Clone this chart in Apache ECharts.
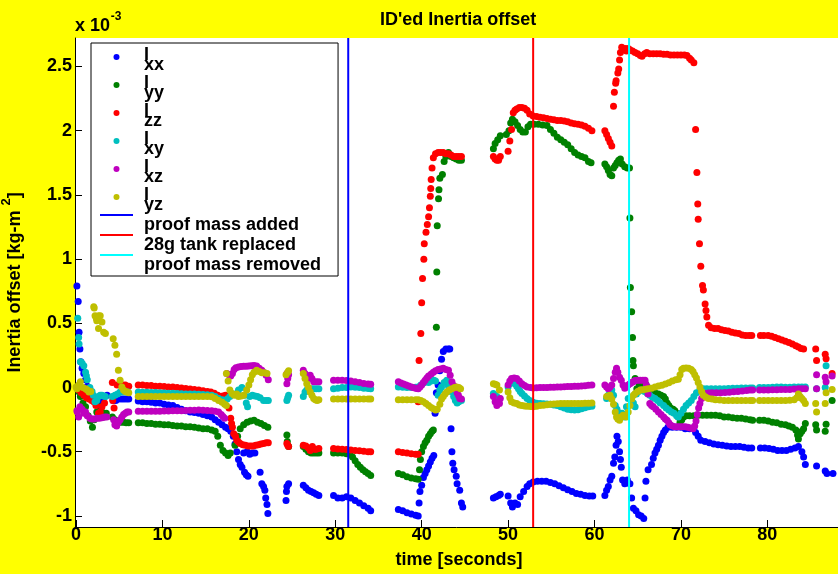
<!DOCTYPE html>
<html>
<head>
<meta charset="utf-8">
<title>ID'ed Inertia offset</title>
<script src="https://cdn.jsdelivr.net/npm/echarts@6/dist/echarts.min.js"></script>
<style>
  html, body { margin: 0; padding: 0; background: #ffff00; }
  #chart { width: 838px; height: 574px; }
</style>
</head>
<body>
<div id="chart"></div>
<script>
// values in units of 1e-3 kg-m^2, time in seconds
const ixx = [
  [0.1,0.79],[0.25,0.67],[0.35,0.43],[0.45,0.30],[0.55,0.20],[0.7,0.15],[0.9,0.11],[1.1,0.06],[1.3,0.01],[1.5,-0.03],[1.8,-0.07],[2.1,-0.10],[2.4,-0.12],[2.7,-0.11],[3.0,-0.09],[3.3,-0.07],[3.6,-0.06],
  [4.3,-0.10],[4.6,-0.10],[4.9,-0.09],[5.2,-0.09],[5.5,-0.09],[5.8,-0.09],[6.1,-0.09],
  [7.2,-0.105],[7.7,-0.11],[8.2,-0.11],[8.7,-0.115],[9.2,-0.12],[9.7,-0.12],[10.2,-0.13],[10.7,-0.135],[11.2,-0.14],[11.7,-0.155],[12.2,-0.17],[12.7,-0.18],[13.2,-0.19],[13.7,-0.195],[14.2,-0.2],[14.7,-0.21],[15.2,-0.22],[15.7,-0.23],[16.1,-0.25],[16.5,-0.27],[16.9,-0.29],[17.3,-0.31],[17.6,-0.32],[17.9,-0.34],[18.2,-0.38],
  [18.4,-0.44],[18.6,-0.5],[18.8,-0.56],[19.0,-0.6],[19.2,-0.62],[19.5,-0.66],[19.7,-0.68],[19.9,-0.69],[19.4,-0.51],[19.8,-0.5],[20.1,-0.52],[20.4,-0.51],[20.7,-0.51],[21.3,-0.66],[21.5,-0.75],[21.7,-0.77],[21.85,-0.8],[21.95,-0.86],[22.1,-0.91],[22.2,-0.98],
  [24.3,-0.88],[24.35,-0.81],[24.4,-0.77],[24.6,-0.75],
  [26.3,-0.76],[26.6,-0.78],[26.9,-0.8],[27.2,-0.81],[27.5,-0.82],[27.8,-0.83],[28.1,-0.84],
  [29.8,-0.84],[30.3,-0.86],[30.8,-0.86],[31.3,-0.85],[31.8,-0.86],[32.3,-0.88],[32.8,-0.9],[33.3,-0.92],[33.8,-0.94],[34.1,-0.96],
  [37.3,-0.95],[37.8,-0.96],[38.3,-0.975],[38.8,-0.985],[39.3,-0.995],[39.6,-1.0],[39.7,-0.9],[39.8,-0.81],[40.0,-0.76],[40.2,-0.7],[40.4,-0.67],[40.6,-0.64],[40.8,-0.61],[41.0,-0.58],[41.2,-0.55],[41.4,-0.53],
  [41.55,-0.2],[41.7,-0.04],[41.9,0.02],[42.1,0.13],[42.3,0.22],[42.5,0.28],[42.8,0.3],[43.1,0.3],[43.25,0.3],
  [43.4,-0.32],[43.5,-0.5],[43.6,-0.59],[43.75,-0.64],[44.0,-0.69],[44.1,-0.75],[44.4,-0.8],[44.6,-0.9],[44.75,-0.93],
  [48.3,-0.86],[48.6,-0.85],[48.9,-0.84],[49.1,-0.83],
  [50.0,-0.845],[50.3,-0.9],[50.5,-0.93],[50.8,-0.9],[51.1,-0.91],[51.4,-0.85],[51.8,-0.81],[52.2,-0.77],[52.5,-0.75],[52.9,-0.735],[53.4,-0.73],[53.9,-0.73],[54.4,-0.73],[54.9,-0.74],[55.4,-0.75],[55.9,-0.765],[56.4,-0.78],[56.9,-0.795],[57.4,-0.81],[57.9,-0.825],[58.4,-0.83],[58.9,-0.84],[59.4,-0.845],[59.8,-0.845],
  [61.2,-0.84],[61.4,-0.8],[61.6,-0.77],[61.8,-0.72],[62.0,-0.69],[62.2,-0.59],[62.35,-0.54],[62.5,-0.45],[62.6,-0.38],[62.75,-0.42],[62.9,-0.5],[63.0,-0.56],[63.1,-0.62],[63.25,-0.72],[63.5,-0.75],[63.8,-0.72],[64.1,-0.75],[64.3,-0.86],[64.5,-0.94],[64.8,-0.96],[65.1,-0.99],[65.4,-1.0],[65.7,-1.02],
  [65.85,-0.86],[65.95,-0.73],[66.2,-0.64],[66.6,-0.6],[66.8,-0.55],[67.0,-0.51],[67.2,-0.48],[67.4,-0.45],[67.6,-0.41],[67.8,-0.38],[68.0,-0.35],[68.2,-0.33],[68.5,-0.31],[69.0,-0.31],[69.5,-0.31],[70.0,-0.31],[70.5,-0.32],[71.0,-0.32],[71.4,-0.32],[71.7,-0.35],[72.0,-0.38],[72.3,-0.41],[72.8,-0.42],[73.3,-0.43],[73.8,-0.44],[74.3,-0.445],[74.8,-0.45],[75.3,-0.455],[75.8,-0.46],[76.3,-0.46],[76.8,-0.46],[77.3,-0.465],[77.8,-0.47],[78.2,-0.47],
  [79.2,-0.47],[79.7,-0.47],[80.2,-0.475],[80.7,-0.48],[81.2,-0.49],[81.7,-0.49],[82.2,-0.49],[82.7,-0.48],[83.2,-0.47],[83.6,-0.46],[84.0,-0.5],[84.2,-0.54],[84.4,-0.6],
  [85.7,-0.61],[86.7,-0.65],[86.9,-0.67],[87.6,-0.67]
];
const iyy = [
  [0.3,-0.03],[0.5,-0.07],[0.8,-0.12],[1.1,-0.15],[1.4,-0.22],[1.65,-0.26],[1.9,-0.31],[2.1,-0.25],[2.4,-0.19],[2.8,-0.15],[3.0,-0.19],[3.2,-0.23],[3.5,-0.2],
  [4.2,-0.23],[4.5,-0.25],[4.9,-0.27],[5.2,-0.27],[5.5,-0.27],[5.8,-0.275],[6.1,-0.275],
  [7.2,-0.275],[7.7,-0.275],[8.2,-0.28],[8.7,-0.28],[9.2,-0.285],[9.7,-0.285],[10.2,-0.29],[10.7,-0.29],[11.2,-0.295],[11.7,-0.3],[12.2,-0.3],[12.7,-0.305],[13.2,-0.305],[13.7,-0.31],[14.2,-0.315],[14.7,-0.32],[15.2,-0.32],[15.7,-0.33],[16.1,-0.34],[16.4,-0.38],[16.7,-0.45],[17.0,-0.49],[17.3,-0.51],[17.6,-0.53],[17.85,-0.51],
  [18.4,-0.45],[18.7,-0.38],[19.0,-0.32],[19.4,-0.29],[19.8,-0.27],[20.2,-0.26],[20.6,-0.255],[21.0,-0.27],[21.4,-0.28],[21.8,-0.295],[22.2,-0.31],
  [24.4,-0.37],[24.45,-0.42],[24.6,-0.46],
  [26.3,-0.46],[26.6,-0.48],[26.9,-0.5],[27.2,-0.51],[27.5,-0.51],[27.8,-0.51],[28.1,-0.51],
  [29.8,-0.51],[30.3,-0.51],[30.8,-0.51],[31.3,-0.515],[31.7,-0.52],[32.0,-0.54],[32.3,-0.57],[32.6,-0.6],[32.9,-0.62],[33.2,-0.64],[33.5,-0.655],[33.8,-0.67],[34.1,-0.685],
  [37.3,-0.67],[37.8,-0.68],[38.3,-0.695],[38.8,-0.705],[39.3,-0.71],[39.6,-0.715],[39.75,-0.64],[39.85,-0.56],[40.0,-0.5],[40.2,-0.46],[40.4,-0.43],[40.6,-0.41],[40.8,-0.38],[41.0,-0.36],[41.2,-0.34],[41.35,-0.33],
  [41.7,0.47],[41.75,0.9],[41.8,1.26],[41.95,1.47],[42.0,1.54],[42.1,1.63],[42.4,1.66],[42.6,1.76],[42.8,1.8],[43.1,1.83],[43.4,1.8],[43.7,1.79],[44.0,1.78],[44.3,1.77],[44.6,1.77],
  [48.3,1.86],[48.5,1.9],[48.8,1.93],[49.1,1.96],
  [49.8,1.97],[50.1,2.0],[50.3,2.06],[50.5,2.09],[50.8,2.07],[51.1,2.04],[51.4,2.01],[51.7,1.99],[52.0,1.99],[52.3,2.03],[52.6,2.05],[53.0,2.05],[53.5,2.05],[54.0,2.045],[54.5,2.04],[54.9,2.01],[55.3,1.98],[55.7,1.95],[56.1,1.93],[56.5,1.91],[56.9,1.89],[57.3,1.86],[57.7,1.83],[58.1,1.81],[58.5,1.8],[58.9,1.79],[59.3,1.76],[59.6,1.75],
  [61.2,1.74],[61.4,1.72],[61.6,1.69],[61.8,1.66],[62.0,1.65],[62.2,1.71],[62.4,1.73],[62.6,1.75],[62.8,1.77],[63.0,1.78],[63.2,1.74],[63.5,1.72],[63.8,1.71],[64.05,1.71],
  [64.1,1.32],[64.15,0.78],[64.3,0.59],[64.4,0.39],[64.45,0.21],[64.5,0.17],[64.7,0.07],[64.9,-0.01],
  [65.2,0.02],[65.5,0.03],[65.9,0.03],[66.2,0.0],[66.6,-0.03],[67.0,-0.04],[67.4,-0.05],[67.7,-0.06],[68.0,-0.07],[68.2,-0.09],[68.4,-0.12],[68.6,-0.14],[68.8,-0.16],[69.1,-0.17],[69.3,-0.18],[69.5,-0.2],[69.7,-0.23],[69.9,-0.27],[70.1,-0.25],[70.3,-0.23],[70.6,-0.22],[71.0,-0.22],[71.5,-0.22],[72.0,-0.215],[72.5,-0.215],[73.0,-0.215],[73.5,-0.215],[74.0,-0.215],[74.5,-0.22],[75.0,-0.23],[75.5,-0.23],[76.0,-0.235],[76.5,-0.24],[77.0,-0.24],[77.5,-0.245],[78.0,-0.25],[78.3,-0.255],
  [79.1,-0.255],[79.6,-0.255],[80.1,-0.26],[80.6,-0.27],[81.1,-0.275],[81.6,-0.285],[82.1,-0.29],[82.5,-0.3],[82.9,-0.31],[83.3,-0.33],[83.5,-0.37],[83.6,-0.4],[83.8,-0.36],[84.0,-0.34],[84.2,-0.32],[84.4,-0.28],
  [85.6,-0.29],[85.7,-0.33],[86.7,-0.34],[86.8,-0.285],[87.5,-0.1]
];
const izz = [
  [0.3,-0.02],[0.6,-0.04],[0.9,-0.06],[1.2,-0.08],[1.5,-0.09],[1.8,-0.1],[2.05,-0.11],[2.3,-0.14],[2.6,-0.2],[2.8,-0.19],[3.0,-0.15],[3.3,-0.12],
  [4.2,0.04],[4.25,-0.1],[4.4,-0.16],[4.75,0.02],[5.1,0.02],[5.4,0.02],[5.7,0.02],[6.1,0.01],
  [7.2,0.02],[7.7,0.02],[8.2,0.015],[8.7,0.015],[9.2,0.01],[9.7,0.01],[10.2,0.008],[10.7,0.005],[11.2,0.005],[11.7,0.0],[12.2,-0.003],[12.7,-0.008],[13.2,-0.012],[13.7,-0.015],[14.2,-0.02],[14.7,-0.025],[15.2,-0.03],[15.6,-0.035],[16.0,-0.045],[16.4,-0.06],[16.7,-0.07],[17.0,-0.065],[17.3,-0.06],
  [17.7,-0.16],[17.9,-0.24],[18.0,-0.28],[18.1,-0.31],[18.25,-0.36],[18.45,-0.38],[18.6,-0.41],[18.8,-0.425],[19.0,-0.435],[19.3,-0.445],[19.6,-0.45],[19.9,-0.455],[20.2,-0.455],[20.5,-0.455],[20.8,-0.45],[21.1,-0.445],[21.4,-0.44],[21.7,-0.435],[22.0,-0.43],[22.25,-0.43],
  [24.4,-0.435],[24.5,-0.45],[24.6,-0.46],
  [26.3,-0.45],[26.6,-0.455],[26.9,-0.47],[27.1,-0.49],[27.35,-0.46],[27.6,-0.48],[27.8,-0.48],[28.1,-0.475],
  [29.8,-0.475],[30.3,-0.478],[30.8,-0.48],[31.3,-0.483],[31.8,-0.487],[32.3,-0.49],[32.8,-0.493],[33.3,-0.496],[33.8,-0.5],[34.1,-0.5],
  [37.3,-0.5],[37.8,-0.505],[38.3,-0.51],[38.8,-0.515],[39.3,-0.52],[39.6,-0.52],
  [39.6,-0.11],[39.7,0.21],[39.9,0.42],[40.0,0.66],[40.1,0.85],[40.25,1.0],[40.3,1.12],[40.5,1.21],[40.65,1.27],[40.8,1.33],[40.9,1.4],[41.0,1.49],[41.05,1.55],[41.1,1.62],[41.2,1.71],[41.35,1.79],
  [41.6,1.82],[41.9,1.83],[42.2,1.83],[42.5,1.83],[42.8,1.82],[43.1,1.82],[43.4,1.81],[43.7,1.8],[44.0,1.8],[44.3,1.8],[44.6,1.8],
  [48.3,1.8],[48.5,1.78],[48.7,1.77],[48.9,1.77],[49.1,1.8],
  [50.0,1.84],[50.2,1.92],[50.4,2.01],[50.6,2.14],[50.8,2.16],[51.0,2.17],[51.3,2.18],[51.6,2.18],[51.9,2.175],[52.2,2.16],[52.5,2.13],[52.9,2.115],[53.3,2.11],[53.7,2.105],[54.1,2.1],[54.5,2.095],[54.9,2.09],[55.3,2.085],[55.7,2.08],[56.1,2.08],[56.5,2.075],[56.9,2.07],[57.3,2.06],[57.7,2.055],[58.1,2.05],[58.5,2.045],[58.9,2.035],[59.3,2.02],[59.7,2.0],
  [61.2,2.0],[61.4,1.97],[61.6,1.94],[61.8,1.91],[62.0,1.88],
  [62.2,2.19],[62.3,2.3],[62.45,2.37],[62.5,2.39],[62.7,2.45],[62.8,2.48],[62.9,2.55],[63.0,2.61],[63.15,2.65],[63.35,2.63],[63.55,2.64],[63.7,2.62],[63.9,2.64],[64.1,2.63],[64.4,2.62],[64.7,2.61],[65.0,2.6],[65.3,2.585],[65.5,2.58],[65.8,2.6],[66.05,2.61],[66.4,2.6],[66.8,2.6],[67.2,2.6],[67.6,2.6],[68.0,2.595],[68.4,2.595],[68.8,2.59],[69.2,2.59],[69.6,2.59],[70.0,2.59],[70.4,2.59],[70.7,2.585],[71.0,2.565],[71.2,2.55],[71.5,2.53],
  [71.7,2.01],[71.85,1.675],[71.95,1.43],[72.0,1.31],[72.15,1.12],[72.3,0.945],[72.5,0.795],[72.6,0.76],[72.8,0.65],[72.9,0.6],[73.0,0.55],[73.2,0.485],
  [73.5,0.465],[73.9,0.46],[74.3,0.46],[74.7,0.45],[75.1,0.445],[75.5,0.44],[75.9,0.43],[76.3,0.425],[76.7,0.42],[77.1,0.41],[77.5,0.405],[77.9,0.405],[78.2,0.405],
  [79.2,0.405],[79.6,0.405],[80.1,0.405],[80.5,0.4],[80.9,0.39],[81.3,0.38],[81.7,0.37],[82.1,0.36],[82.5,0.35],[82.9,0.34],[83.3,0.325],[83.6,0.315],[83.9,0.305],[84.2,0.3],
  [85.6,0.3],[85.7,0.21],[86.7,0.26],[86.8,0.225],[87.5,0.11]
];
const ixy = [
  [0.2,0.54],[0.3,0.39],[0.35,0.34],[0.5,0.2],[0.7,0.19],[0.9,0.17],[1.1,0.12],[1.2,0.09],[1.3,0.06],[1.6,0.0],[1.85,-0.03],[2.0,-0.06],[2.2,-0.11],[2.4,-0.1],[2.6,-0.07],[2.8,-0.06],[3.0,-0.06],[3.2,-0.065],[3.4,-0.07],
  [4.2,-0.07],[4.5,-0.06],[4.8,-0.05],[5.1,-0.035],[5.4,-0.035],[5.7,-0.035],[6.0,-0.035],
  [7.2,-0.035],[7.7,-0.036],[8.2,-0.037],[8.7,-0.038],[9.2,-0.039],[9.7,-0.04],[10.2,-0.042],[10.7,-0.044],[11.2,-0.045],[11.7,-0.046],[12.2,-0.048],[12.7,-0.05],[13.2,-0.05],[13.7,-0.051],[14.2,-0.052],[14.7,-0.055],[15.2,-0.057],[15.7,-0.06],[16.1,-0.07],[16.5,-0.085],[16.9,-0.095],[17.2,-0.1],[17.5,-0.09],[17.8,-0.07],[18.1,-0.05],[18.45,-0.05],[18.8,-0.02],[19.2,0.0],[19.5,-0.06],[19.7,-0.12],[19.85,-0.15],[20.1,-0.07],[20.4,-0.06],[20.7,-0.065],[21.0,-0.07],[21.3,-0.08],[21.7,-0.1],[22.0,-0.1],[22.25,-0.1],
  [24.4,-0.1],[24.5,-0.08],[24.6,-0.06],
  [26.3,-0.07],[26.5,-0.035],[26.7,-0.02],[26.9,-0.01],[27.2,-0.01],[27.5,-0.01],[27.8,-0.01],[28.1,-0.01],
  [29.8,-0.01],[30.3,-0.005],[30.8,0.0],[31.3,0.0],[31.8,0.005],[32.3,0.002],[32.8,0.0],[33.3,-0.005],[33.8,-0.008],[34.1,-0.01],
  [37.3,0.005],[37.8,0.002],[38.3,0.0],[38.8,0.0],[39.3,0.003],[39.6,0.005],[39.9,0.02],[40.2,0.035],[40.5,0.045],[40.8,0.04],[41.1,0.05],[41.4,0.057],[41.6,0.05],[41.9,-0.06],[42.1,-0.02],[42.3,0.005],[42.6,0.04],[42.9,0.057],[43.1,0.01],[43.4,-0.03],[43.7,-0.07],[43.9,-0.1],[44.1,-0.12],[44.3,-0.11],[44.6,-0.1],
  [48.3,-0.047],[48.5,-0.06],[48.7,-0.07],[49.0,-0.085],
  [50.0,0.005],[50.2,0.03],[50.4,0.045],[50.6,0.04],[50.8,0.03],[51.0,0.01],[51.2,-0.01],[51.4,-0.03],[51.6,-0.047],[51.9,-0.065],[52.2,-0.085],[52.5,-0.1],[52.9,-0.115],[53.3,-0.122],[53.7,-0.125],[54.1,-0.127],[54.5,-0.128],[54.9,-0.13],[55.3,-0.135],[55.7,-0.14],[56.1,-0.15],[56.5,-0.16],[56.9,-0.17],[57.3,-0.173],[57.7,-0.175],[58.1,-0.172],[58.5,-0.165],[58.9,-0.158],[59.3,-0.15],[59.7,-0.145],
  [61.4,-0.085],[61.6,-0.06],[61.8,-0.04],[62.0,-0.02],[62.2,-0.06],[62.4,-0.14],[62.6,-0.17],[62.8,-0.2],[63.0,-0.2],[63.2,-0.2],[63.5,-0.23],[63.7,-0.15],[63.9,-0.085],[64.3,-0.1],[64.5,-0.12],[64.7,-0.15],[64.85,-0.05],[65.1,-0.03],[65.4,-0.02],[65.8,-0.03],[66.1,-0.045],[66.4,-0.06],[66.7,-0.075],[67.0,-0.085],[67.3,-0.1],[67.6,-0.12],[68.0,-0.14],[68.3,-0.16],[68.6,-0.175],[68.9,-0.19],[69.2,-0.2],[69.5,-0.22],[69.7,-0.23],[70.0,-0.2],[70.3,-0.17],[70.6,-0.14],[70.9,-0.12],[71.2,-0.1],[71.5,-0.07],[71.8,-0.04],[72.2,-0.02],[72.6,-0.01],[73.0,-0.01],[73.5,-0.01],[74.0,-0.01],[74.5,-0.01],[75.0,-0.01],[75.5,-0.008],[76.0,-0.006],[76.5,-0.005],[77.0,-0.003],[77.5,-0.003],[78.0,-0.003],[78.3,-0.003],
  [79.1,0.0],[79.6,0.0],[80.1,0.0],[80.6,0.002],[81.1,0.004],[81.6,0.004],[82.1,0.002],[82.6,0.003],[83.1,0.005],[83.6,0.005],[84.0,0.005],[84.4,0.005],
  [85.7,-0.01],[86.7,0.0],[86.8,0.17]
];
const ixz = [
  [0.1,-0.18],[0.15,-0.19],[0.3,-0.23],[0.45,-0.15],[0.7,-0.17],[0.9,-0.2],[1.1,-0.19],[1.3,-0.22],[1.6,-0.24],[1.85,-0.245],[2.1,-0.245],[2.4,-0.24],[2.7,-0.24],[3.0,-0.235],[3.3,-0.23],[3.55,-0.23],
  [4.35,-0.25],[4.5,-0.29],[4.7,-0.3],[4.9,-0.27],[5.1,-0.25],[5.3,-0.23],[5.5,-0.21],[5.7,-0.2],[5.9,-0.19],[6.1,-0.19],
  [7.2,-0.185],[7.7,-0.185],[8.2,-0.185],[8.7,-0.185],[9.2,-0.185],[9.7,-0.185],[10.2,-0.183],[10.7,-0.182],[11.2,-0.181],[11.7,-0.18],[12.2,-0.18],[12.7,-0.178],[13.2,-0.177],[13.7,-0.176],[14.2,-0.175],[14.7,-0.176],[15.2,-0.178],[15.7,-0.18],[16.1,-0.185],[16.5,-0.19],[16.8,-0.21],[17.0,-0.225],[17.2,-0.24],
  [17.45,0.11],[17.7,0.1],[17.9,0.09],[18.1,0.11],[18.3,0.14],[18.5,0.155],[18.8,0.16],[19.1,0.163],[19.4,0.165],[19.7,0.165],[20.0,0.168],[20.3,0.17],[20.6,0.172],[20.9,0.168],[21.2,0.15],[21.5,0.135],[21.8,0.115],[22.0,0.095],[22.25,0.06],
  [24.4,0.11],[24.4,0.03],[24.5,0.07],[24.6,0.1],
  [26.3,0.135],[26.5,0.11],[26.7,0.09],[26.9,0.07],[27.1,0.095],[27.3,0.07],[27.5,0.045],[27.8,0.045],[28.1,0.045],
  [29.8,0.057],[30.3,0.057],[30.8,0.057],[31.3,0.055],[31.8,0.05],[32.3,0.045],[32.8,0.04],[33.3,0.032],[33.8,0.027],[34.1,0.025],
  [37.3,0.045],[37.6,0.035],[37.9,0.028],[38.2,0.02],[38.5,0.012],[38.8,0.005],[39.1,-0.002],[39.4,-0.008],[39.6,-0.01],[39.8,0.005],[40.0,0.02],[40.2,0.04],[40.4,0.057],[40.6,0.075],[40.8,0.09],[41.1,0.105],[41.35,0.12],[41.6,0.13],[41.9,0.14],[42.2,0.145],[42.5,0.15],[42.8,0.14],[43.1,0.135],[43.3,0.095],[43.5,0.045],[43.7,0.015],[43.9,-0.01],[44.1,-0.04],[44.25,-0.06],[44.4,-0.085],[44.6,-0.09],
  [48.3,-0.07],[48.5,-0.11],[48.7,-0.14],[49.0,-0.125],[49.1,-0.085],
  [50.0,0.02],[50.2,0.05],[50.4,0.07],[50.7,0.075],[51.0,0.07],[51.3,0.05],[51.6,0.03],[51.9,0.015],[52.2,0.005],[52.6,0.0],[52.9,-0.003],[53.3,-0.002],[53.7,0.0],[54.1,0.0],[54.5,0.0],[54.9,0.002],[55.3,0.003],[55.7,0.004],[56.1,0.005],[56.5,0.006],[56.9,0.008],[57.3,0.009],[57.7,0.01],[58.1,0.011],[58.5,0.012],[58.9,0.014],[59.3,0.017],[59.7,0.02],
  [61.2,0.02],[61.4,0.005],[61.6,-0.01],[61.8,0.005],[62.0,0.02],[62.2,0.07],[62.4,0.12],[62.55,0.15],[62.7,0.12],[62.9,0.08],[63.1,0.057],[63.3,0.02],[63.5,-0.005],[63.7,0.005],[63.9,0.02],[64.1,0.03],[64.3,0.04],[64.5,0.045],[64.7,0.055],[65.0,0.057],[65.3,0.057],[65.6,0.057],[65.85,0.057],
  [66.0,0.02],[66.2,-0.05],[66.4,-0.125],[66.6,-0.14],[66.8,-0.15],[67.1,-0.17],[67.4,-0.19],[67.7,-0.21],[68.0,-0.23],[68.2,-0.245],[68.4,-0.255],[68.6,-0.275],[68.75,-0.29],[69.0,-0.3],[69.3,-0.305],[69.6,-0.305],[69.9,-0.305],[70.2,-0.305],[70.5,-0.305],[70.8,-0.31],[71.1,-0.315],[71.4,-0.32],
  [71.6,-0.3],[71.75,-0.26],[71.9,-0.21],[72.05,-0.16],[72.2,-0.125],[72.4,-0.085],[72.6,-0.06],[72.8,-0.047],[73.2,-0.042],[73.6,-0.04],[74.1,-0.04],[74.6,-0.04],[75.1,-0.038],[75.6,-0.036],[76.1,-0.033],[76.6,-0.03],[77.1,-0.026],[77.6,-0.023],[78.0,-0.02],[78.3,-0.02],
  [79.1,-0.02],[79.6,-0.02],[80.1,-0.02],[80.6,-0.018],[81.1,-0.017],[81.6,-0.016],[82.1,-0.016],[82.6,-0.015],[83.1,-0.012],[83.6,-0.01],[84.0,-0.01],[84.4,-0.01],
  [85.7,0.1],[85.7,-0.01],[86.7,0.08],[86.8,0.045],[87.5,0.09]
];
const iyz = [
  [0.0,0.005],[0.1,-0.01],[0.3,0.02],[0.5,0.045],[0.8,0.0],[1.1,-0.01],[1.3,-0.02],[1.5,-0.035],[1.7,-0.03],
  [2.05,0.63],[2.1,0.62],[2.2,0.56],[2.35,0.54],[2.4,0.52],[2.6,0.56],[2.6,0.46],[2.8,0.56],[3.0,0.51],[3.2,0.43],[3.4,0.42],
  [4.3,0.38],[4.5,0.33],[4.7,0.26],[4.9,0.135],[5.1,0.057],[5.3,0.005],[5.5,-0.02],[5.7,-0.03],[5.9,-0.035],[6.1,-0.04],
  [7.2,-0.07],[7.7,-0.07],[8.2,-0.07],[8.7,-0.07],[9.2,-0.07],[9.7,-0.07],[10.2,-0.07],[10.7,-0.07],[11.2,-0.07],[11.7,-0.07],[12.2,-0.07],[12.7,-0.07],[13.2,-0.07],[13.7,-0.07],[14.2,-0.07],[14.7,-0.07],[15.2,-0.07],[15.7,-0.072],[16.1,-0.085],[16.5,-0.1],[16.9,-0.115],[17.2,-0.13],[17.4,-0.14],
  [17.4,0.11],[17.6,0.05],[17.8,-0.02],[18.05,-0.047],[18.3,-0.06],[18.6,-0.05],[18.8,-0.07],[19.1,-0.065],[19.4,-0.06],[19.75,-0.02],[20.0,0.02],[20.2,0.06],[20.4,0.1],[20.6,0.12],[20.9,0.135],[21.2,0.125],[21.5,0.115],[21.8,0.115],[22.1,0.11],
  [24.3,0.1],[24.5,0.12],[24.6,0.13],
  [26.3,0.11],[26.5,0.07],[26.7,0.03],[26.9,0.0],[27.1,-0.035],[27.3,-0.06],[27.5,-0.085],[27.7,-0.095],[27.9,-0.1],[28.1,-0.095],
  [29.8,-0.09],[30.3,-0.09],[30.8,-0.09],[31.3,-0.09],[31.8,-0.09],[32.3,-0.09],[32.8,-0.09],[33.3,-0.09],[33.8,-0.09],[34.1,-0.09],
  [37.3,-0.095],[37.8,-0.095],[38.3,-0.095],[38.8,-0.095],[39.3,-0.095],[39.6,-0.095],[39.9,-0.1],[40.2,-0.11],[40.5,-0.125],[40.8,-0.14],[41.1,-0.155],[41.35,-0.165],[41.6,-0.175],[41.8,-0.17],[42.1,-0.13],[42.3,-0.09],[42.5,-0.07],[42.7,-0.05],[42.9,-0.035],[43.2,-0.02],[43.5,-0.01],[43.8,0.0],[44.05,0.005],[44.3,0.0],[44.5,-0.01],
  [48.3,0.03],[48.5,0.025],[48.7,0.02],[49.0,-0.02],
  [50.0,-0.035],[50.2,-0.08],[50.4,-0.11],[50.7,-0.12],[51.0,-0.125],[51.3,-0.135],[51.6,-0.14],[51.9,-0.143],[52.2,-0.145],[52.6,-0.148],[52.9,-0.15],[53.3,-0.145],[53.7,-0.14],[54.1,-0.137],[54.5,-0.134],[54.9,-0.13],[55.3,-0.128],[55.7,-0.126],[56.1,-0.125],[56.5,-0.125],[56.9,-0.125],[57.3,-0.125],[57.7,-0.125],[58.1,-0.125],[58.5,-0.125],[58.9,-0.123],[59.3,-0.122],[59.7,-0.12],
  [61.4,-0.07],[61.6,-0.065],[61.8,-0.06],[62.0,-0.09],[62.2,-0.13],[62.4,-0.19],[62.55,-0.23],[62.7,-0.245],[62.9,-0.255],[63.1,-0.23],[63.3,-0.215],[63.5,-0.225],[63.7,-0.23],[63.9,-0.19],[64.1,-0.14],[64.3,-0.09],[64.5,-0.06],[64.7,-0.047],[65.0,-0.03],[65.3,-0.02],[65.6,-0.017],[65.9,-0.013],[66.2,-0.01],[66.6,-0.005],[67.0,0.005],[67.4,0.012],[67.8,0.018],[68.2,0.028],[68.6,0.038],[69.0,0.05],[69.4,0.06],[69.7,0.065],[69.9,0.1],[70.1,0.14],[70.3,0.15],[70.6,0.153],[70.9,0.15],[71.2,0.14],[71.4,0.125],[71.6,0.1],[71.8,0.075],[72.0,0.04],[72.2,0.005],[72.4,-0.03],[72.6,-0.06],[72.9,-0.075],[73.2,-0.085],[73.6,-0.09],[74.0,-0.095],[74.5,-0.097],[75.0,-0.1],[75.5,-0.1],[76.0,-0.1],[76.5,-0.1],[77.0,-0.1],[77.5,-0.1],[78.0,-0.1],[78.3,-0.1],
  [79.1,-0.1],[79.6,-0.1],[80.1,-0.1],[80.6,-0.1],[81.1,-0.1],[81.6,-0.1],[82.1,-0.1],[82.6,-0.098],[83.1,-0.095],[83.4,-0.08],[83.6,-0.05],[83.8,-0.07],[84.0,-0.085],[84.2,-0.1],[84.4,-0.125],
  [85.6,-0.125],[85.7,-0.19],[86.7,-0.125],[86.8,-0.04],[87.5,-0.015]
];

const seriesNames = ['Ixx', 'Iyy', 'Izz', 'Ixy', 'Ixz', 'Iyz'];
const eventTimes = [31.5, 52.9, 64.0];
const eventNames = ['proof mass added', '28g tank replaced', 'proof mass removed'];
const xTicks = [0, 10, 20, 30, 40, 50, 60, 70, 80];
const yTicks = [-1, -0.5, 0, 0.5, 1, 1.5, 2, 2.5];

// axis limits (tight, like the original plot)
const xMin = -0.12, xMax = 88.18;
const yMin = -1.086, yMax = 2.722;

const dotColors = ['#0000ff', '#008000', '#ff0000', '#00bfbf', '#bf00bf', '#bfbf00'];
const eventColors = ['#0000ff', '#ff0000', '#00ffff'];
const font = 'Liberation Sans';
const txt = { fontFamily: font, fontWeight: 'bold', fontSize: 18, color: '#000' };
// plain line for the legend entries of the vertical markers
const lineIcon = 'path://M0,0L33,0L33,2L0,2Z';

const chart = echarts.init(document.getElementById('chart'));

const scatterSeries = [ixx, iyy, izz, ixy, ixz, iyz].map((d, i) => ({
  name: seriesNames[i],
  type: 'scatter',
  data: d,
  symbol: 'circle',
  symbolSize: 7,
  itemStyle: { color: dotColors[i], opacity: 1 },
  silent: true
}));

const eventSeries = eventTimes.map((t, i) => ({
  name: eventNames[i],
  type: 'line',
  data: [[t, yMin], [t, yMax]],
  symbol: 'none',
  showSymbol: false,
  lineStyle: { color: eventColors[i], width: 2 },
  itemStyle: { color: eventColors[i] },
  z: 5,
  silent: true
}));

const option = {
  backgroundColor: '#ffff00',
  animation: false,
  title: {
    text: "ID'ed Inertia offset",
    left: 380,
    top: 10,
    padding: 0,
    textStyle: Object.assign({ lineHeight: 20 }, txt)
  },
  grid: {
    left: 75, right: 0, top: 38, bottom: 47,
    show: true, backgroundColor: '#ffffff', borderWidth: 0,
    outerBoundsMode: 'none'
  },
  legend: {
    orient: 'vertical',
    left: 91,
    top: 43,
    padding: [3, 17, 2, 9],
    itemGap: 0,
    itemWidth: 33,
    itemHeight: 6,
    backgroundColor: '#ffffff',
    borderColor: '#000',
    borderWidth: 1,
    borderRadius: 0,
    selectedMode: false,
    data: seriesNames.map(n => ({ name: n, icon: 'circle', textStyle: { padding: [6, 0, 0, 6] } }))
      .concat(eventNames.map(n => ({ name: n, icon: lineIcon, textStyle: { padding: [20, 0, 0, 6] } }))),
    formatter: n => seriesNames.indexOf(n) >= 0
      ? '{m|I}\n{m|' + n.slice(1) + '}'
      : '{t|' + n + '}',
    textStyle: Object.assign({
      rich: {
        m: Object.assign({ lineHeight: 10 }, txt),
        t: Object.assign({ lineHeight: 6 }, txt)
      }
    }, txt)
  },
  xAxis: {
    type: 'value',
    min: xMin,
    max: xMax,
    name: 'time [seconds]',
    nameLocation: 'middle',
    nameGap: 23,
    nameTextStyle: Object.assign({ lineHeight: 20, padding: [0, 0, 0, 5] }, txt),
    axisLine: { onZero: false, lineStyle: { color: '#000', width: 1 } },
    axisTick: { inside: true, length: 7, customValues: xTicks, lineStyle: { color: '#000' } },
    axisLabel: Object.assign({ customValues: xTicks, margin: 1, lineHeight: 14, formatter: v => String(v) }, txt),
    splitLine: { show: false }
  },
  yAxis: {
    type: 'value',
    min: yMin,
    max: yMax,
    name: '{n|Inertia offset [kg-m }{s|2}{n|]}',
    nameLocation: 'middle',
    nameGap: 39,
    nameTextStyle: Object.assign({
      lineHeight: 20,
      rich: {
        n: Object.assign({ lineHeight: 20 }, txt),
        s: Object.assign({}, txt, { fontSize: 13, lineHeight: 20, padding: [0, 0, 17, 0] })
      }
    }, txt),
    axisLine: { show: true, onZero: false, lineStyle: { color: '#000', width: 1 } },
    axisTick: { show: true, inside: true, length: 7, customValues: yTicks, lineStyle: { color: '#000' } },
    axisLabel: Object.assign({ customValues: yTicks, margin: 3, formatter: v => String(v) }, txt),
    splitLine: { show: false }
  },
  graphic: [
    {
      type: 'text', x: 75, y: 26, silent: true,
      style: { text: 'x 10', font: 'bold 18px "Liberation Sans"', fill: '#000', verticalAlign: 'middle', textVerticalAlign: 'middle' }
    },
    {
      type: 'text', x: 110.7, y: 16.5, silent: true,
      style: { text: '-3', font: 'bold 12px "Liberation Sans"', fill: '#000', verticalAlign: 'middle', textVerticalAlign: 'middle' }
    }
  ],
  series: scatterSeries.concat(eventSeries)
};

chart.setOption(option);
</script>
</body>
</html>
